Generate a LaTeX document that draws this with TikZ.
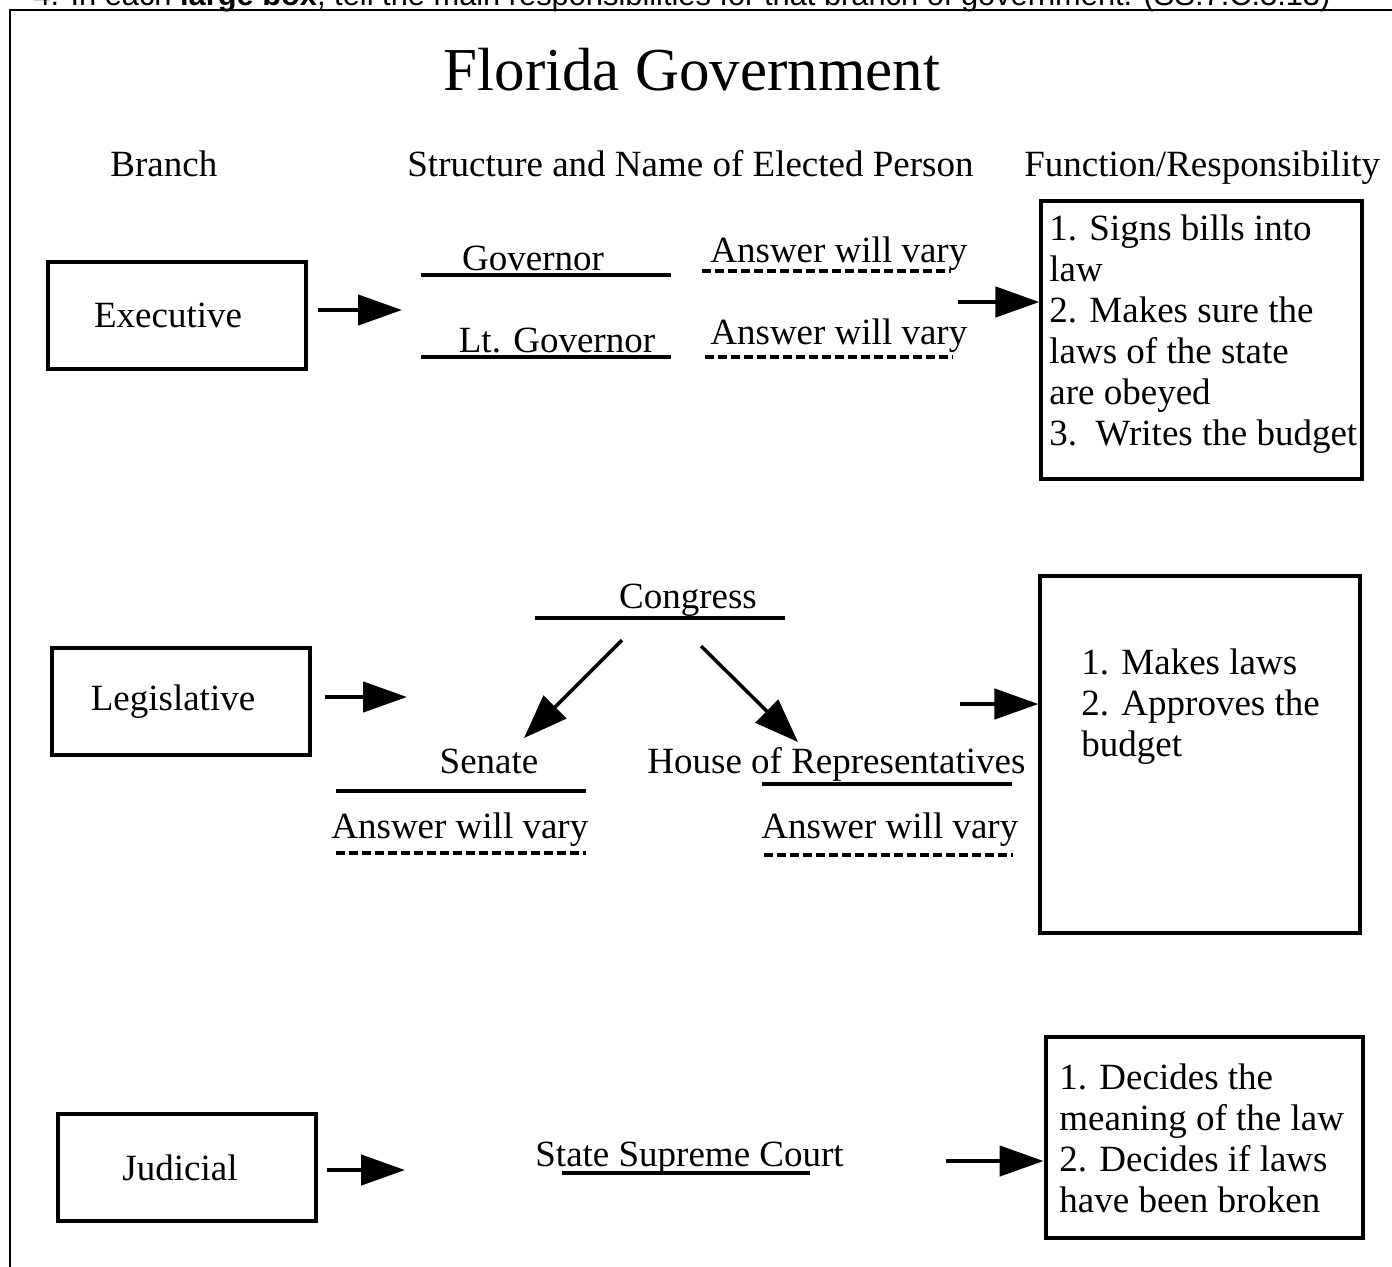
\documentclass[tikz,border=0pt]{standalone}
\usepackage{fontspec}
\usepackage{graphicx}
\setmainfont{Liberation Serif}
\newfontfamily\sansf{Liberation Sans}
\usetikzlibrary{arrows.meta,calc}
\begin{document}
\begin{tikzpicture}[x=0.5pt,y=-0.5pt,
  txt/.style={font=\fontsize{18.5}{20.5}\selectfont, inner sep=0pt},
  titletxt/.style={font=\fontsize{30.5}{34}\selectfont, inner sep=0pt},
  branchbox/.style={draw, line width=1.75pt, minimum width=129pt, minimum height=53.5pt, inner sep=0pt, font=\fontsize{18.5}{20.5}\selectfont},
  funcbox/.style={draw, line width=1.6pt, inner sep=0pt},
  uline/.style={line width=1.75pt},
  dline/.style={line width=2pt, dash pattern=on 4.5pt off 2pt},
  harr/.style={line width=2.3pt, -{Triangle[length=22pt,width=15pt]}},
  darr/.style={line width=1.75pt, -{Triangle[length=22pt,width=16pt]}},
  frameline/.style={line width=1.25pt}
]
\useasboundingbox (0,0) rectangle (1392,1266);
\begin{scope}
\clip (0,0) rectangle (1392,1266);
\node[anchor=base west, inner sep=0pt] (instr) at (33,5) {\resizebox{648.5pt}{!}{\sansf\fontsize{13}{15}\selectfont 4. In each \textbf{large box}, tell the main responsibilities for that branch of government. (SS.7.C.3.13)}};
\draw[frameline] (10,1280) -- (10,10) -- (1400,10);
\end{scope}

% title and headers
\node[titletxt, anchor=base] (title) at (692,90) {Florida Government};
\node[txt, anchor=base west] (hb) at (110,176) {Branch};
\node[txt, anchor=base west] (hs) at (407,176) {Structure and Name of Elected Person};
\node[txt, anchor=base west] (hf) at (1024,176) {Function/Responsibility};

% ---------- Executive ----------
\node[branchbox] (exec) at (177,315.5) {\hspace*{-9pt}Executive};
\node[txt, anchor=base] (gov) at (533,270) {Governor};
\draw[uline] (421,275) -- (671,275);
\node[txt, anchor=base] (ltgov) at (557,352) {Lt. Governor};
\draw[uline] (421,357) -- (671,357);
\node[txt, anchor=base west] (av1) at (710,262) {Answer will vary};
\draw[dline] (702,271) -- (951,271);
\node[txt, anchor=base west] (av2) at (710,344) {Answer will vary};
\draw[dline] (705,357) -- (953,357);
\node[funcbox, minimum width=160.5pt, minimum height=139pt] (fexec) at (1201.5,340) {};
\foreach \t [count=\i from 0] in {1. Signs bills into, law, 2. Makes sure the, laws of the state, are obeyed, 3.\ \ Writes the budget}
  \node[txt, anchor=base west] (fe\i) at (1049,{240+41*\i}) {\t};
\coordinate (ea) at (318,310);
\coordinate (eb) at (402,310);
\draw[harr] (ea) -- (eb);
\coordinate (ec) at (958,302);
\draw[harr] (ec) -- (ec -| fexec.west);

% ---------- Legislative ----------
\node[branchbox] (leg) at (181,701.5) {\hspace*{-8pt}Legislative};
\node[txt, anchor=base] (cong) at (688,608) {Congress};
\draw[uline] (535,618) -- (785,618);
\node[txt, anchor=base] (sen) at (489,773) {Senate};
\draw[uline] (336,791) -- (586,791);
\node[txt, anchor=base west] (av3) at (331,838) {Answer will vary};
\draw[dline] (336,853) -- (586,853);
\node[txt, anchor=base west] (house) at (647,773) {House of Representatives};
\draw[uline] (762,784) -- (1012,784);
\node[txt, anchor=base west] (av4) at (761,838) {Answer will vary};
\draw[dline] (764,855) -- (1013,855);
\node[funcbox, minimum width=160pt, minimum height=178.5pt] (fleg) at (1200,754.5) {};
\foreach \t [count=\i from 0] in {1. Makes laws, 2. Approves the, budget}
  \node[txt, anchor=base west] (fl\i) at (1081,{674+41*\i}) {\t};
\coordinate (la) at (325,697);
\coordinate (lb) at (407,697);
\draw[harr] (la) -- (lb);
\coordinate (lc) at (960,704);
\draw[harr] (lc) -- (lc -| fleg.west);
\coordinate (cs1) at (622,640);
\coordinate (cs2) at (524,738);
\draw[darr] (cs1) -- (cs2);
\coordinate (ch1) at (701,646);
\coordinate (ch2) at (798,742);
\draw[darr] (ch1) -- (ch2);

% ---------- Judicial ----------
\node[branchbox] (jud) at (187,1167.5) {\hspace*{-7pt}Judicial};
\node[txt, anchor=base west] (ssc) at (535,1166) {State Supreme Court};
\draw[uline] (562,1173) -- (810,1173);
\node[funcbox, line width=2.4pt, minimum width=158.5pt, minimum height=100.5pt] (fjud) at (1204.5,1137.5) {};
\foreach \t [count=\i from 0] in {1. Decides the, meaning of the law, 2. Decides if laws, have been broken}
  \node[txt, anchor=base west] (fj\i) at (1059,{1089+41*\i}) {\t};
\coordinate (ja) at (327,1170);
\coordinate (jb) at (405,1170);
\draw[harr] (ja) -- (jb);
\coordinate (jc) at (946,1161);
\draw[harr] (jc) -- (jc -| fjud.west);
\end{tikzpicture}
\end{document}
